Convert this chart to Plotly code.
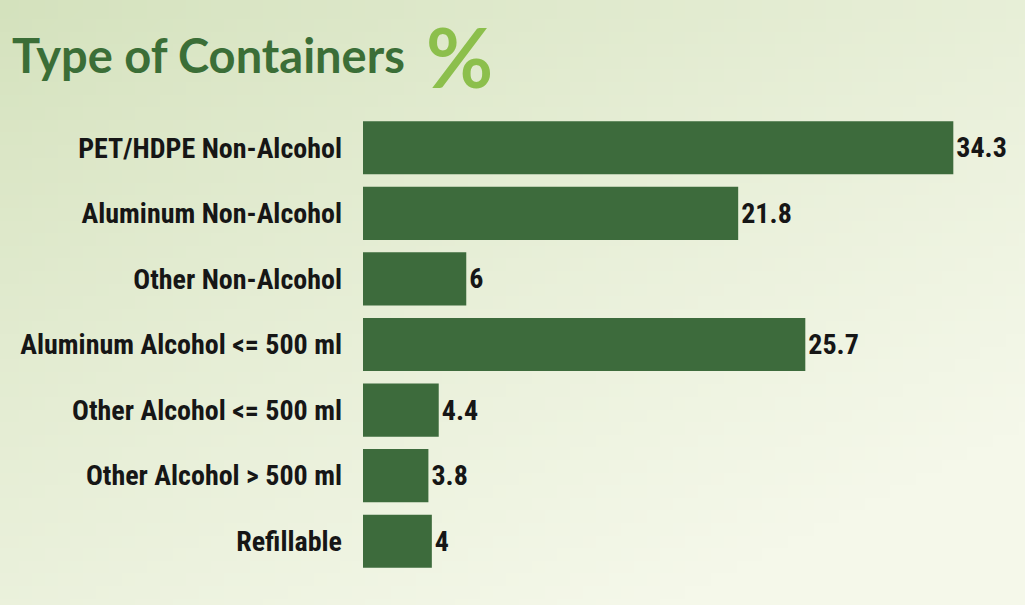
import base64, struct, zlib
import plotly.graph_objects as go

categories = ["PET/HDPE Non-Alcohol", "Aluminum Non-Alcohol", "Other Non-Alcohol",
              "Aluminum Alcohol <= 500 ml", "Other Alcohol <= 500 ml",
              "Other Alcohol > 500 ml", "Refillable"]
values = [34.3, 21.8, 6, 25.7, 4.4, 3.8, 4]
value_labels = ["34.3", "21.8", "6", "25.7", "4.4", "3.8", "4"]
title_text = "Type of Containers"

# background gradient png (decoration)
def make_png(w, h):
    raw = b""
    c0 = (208, 223, 183)
    c1 = (245, 248, 234)
    for j in range(h):
        raw += b"\x00"
        for i in range(w):
            t = min(1.0, max(0.0, 0.5 * i / (w - 1) + 0.6 * j / (h - 1) + 0.08))
            t = t ** 0.8
            px = bytes(int(c0[k] + (c1[k] - c0[k]) * t) for k in range(3))
            raw += px
    def chunk(tag, data):
        c = struct.pack(">I", len(data)) + tag + data
        return c + struct.pack(">I", zlib.crc32(tag + data) & 0xffffffff)
    png = b"\x89PNG\r\n\x1a\n" + chunk(b"IHDR", struct.pack(">IIBBBBB", w, h, 8, 2, 0, 0, 0))
    png += chunk(b"IDAT", zlib.compress(raw, 9)) + chunk(b"IEND", b"")
    return "data:image/png;base64," + base64.b64encode(png).decode()

bg = make_png(80, 48)

label_font = "Roboto Condensed, Liberation Sans Narrow, Arial Narrow, Roboto, sans-serif"

fig = go.Figure(go.Bar(
    y=categories, x=values, orientation="h",
    marker=dict(color="#3d6b3c", line=dict(width=0)),
    text=value_labels, textposition="outside", cliponaxis=False,
    textfont=dict(family=label_font, size=28, color="#161616", weight="bold"),
    width=0.81,
))

W, H = 1025, 605
PW, PH = 654, 459
fig.update_layout(
    width=W, height=H,
    margin=dict(l=363, r=8, t=115, b=31),
    paper_bgcolor="#e4edd2", plot_bgcolor="rgba(0,0,0,0)",
    showlegend=False,
    images=[dict(source=bg, xref="paper", yref="paper", x=-363/PW, y=1 + 115/PH,
                 sizex=W/PW, sizey=H/PH, sizing="stretch", layer="below",
                 xanchor="left", yanchor="top")],
    xaxis=dict(range=[0, 38.0], visible=False, fixedrange=True),
    yaxis=dict(autorange="reversed", showgrid=False, zeroline=False, showline=False,
               ticks="", ticklabelstandoff=20,
               tickfont=dict(family=label_font, size=28, color="#161616", weight="bold")),
    annotations=[
        dict(text="<b>" + title_text + "</b>", xref="paper", yref="paper",
             x=-363/PW + 10/PW, y=1 + (115 - 55)/PH, xanchor="left", yanchor="middle",
             showarrow=False, font=dict(family="Lato, Open Sans, sans-serif", size=47, color="#3b6e37")),
        dict(text="<b>%</b>", xref="paper", yref="paper",
             x=(424 - 363)/PW, y=1 + (115 - 56)/PH, xanchor="left", yanchor="middle",
             showarrow=False,
             font=dict(family="Lato, Open Sans, sans-serif", size=82, color="#8cbf4c")),
    ],
)
fig.write_html("out.html")
